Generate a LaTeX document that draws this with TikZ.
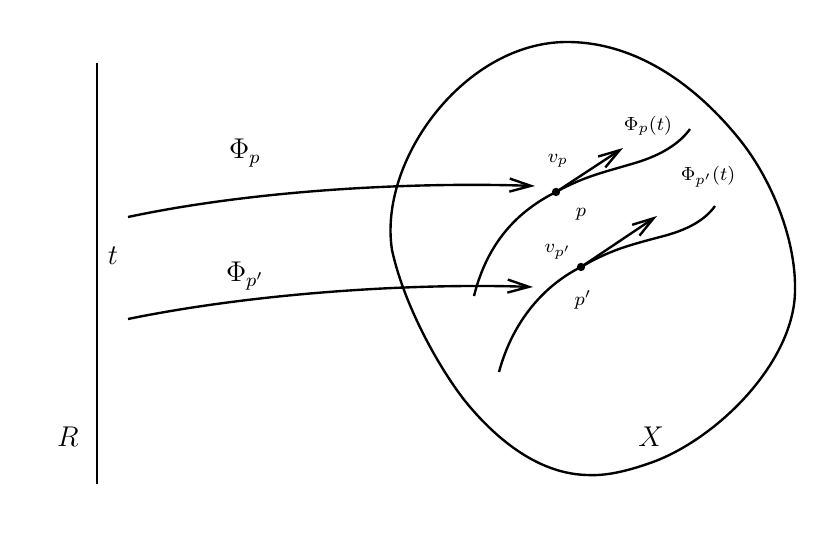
\documentclass[tikz,border=0pt]{standalone}
\usepackage{amsmath,amssymb}
\usetikzlibrary{arrows.meta,calc,positioning}

\begin{document}
\begin{tikzpicture}[>={Straight Barb[length=9pt,width=5.5pt]},x=0.42pt,y=-0.42pt,line width=1pt]
\tikzset{lbl/.style={inner sep=0pt,font=\large},slbl/.style={inner sep=0pt,font=\footnotesize},pt/.style={circle,fill,inner sep=0pt,minimum size=3.5pt}}
\useasboundingbox (0,0) rectangle (827,538);
% the line R
\coordinate (rtop) at (97,63); \coordinate (rbot) at (97,484);
\draw (rtop)--(rbot);
\node[lbl] (R) at (68,437) {$R$}; \node[lbl] (t) at (113,256) {$t$};
% the flows
\coordinate (a1) at (128,217); \coordinate (b1) at (535,186);
\coordinate (a2) at (128,319); \coordinate (b2) at (533,287);
\draw[->](a1) .. controls (260,189) and (420,182) .. (b1);
\draw[->](a2) .. controls (260,292) and (420,283) .. (b2);
\node[lbl] (phi1) at (245,153) {$\Phi_p$}; \node[lbl] (phi2) at (245,276) {$\Phi_{p'}$};
% the space X
\draw (567,42) .. controls (640,42) and (700,90) .. (740,140) .. controls (772,180) and (796,240) .. (795,290)
  .. controls (795,360) and (720,437) .. (653,462) .. controls (625,472) and (605,476) .. (587,475)
  .. controls (545,474) and (505,448) .. (470,407) .. controls (445,378) and (405,310) .. (392,250)
  .. controls (378,160) and (465,42) .. cycle;
\node[lbl] (X) at (651,437) {$X$};
% orbits in X
\node[pt] (p1) at (556,192) {}; \node[pt] (p2) at (581,267) {};
\coordinate (c1s) at (474,296); \coordinate (c1e) at (690,129);
\coordinate (c2s) at (499,372); \coordinate (c2e) at (715,206);
\draw (c1s) .. controls (488,240) and (520,210) .. (p1.center) .. controls (585,176) and (605,172) .. (635,163) .. controls (662,155) and (680,143) .. (c1e);
\draw (c2s) .. controls (513,320) and (545,285) .. (p2.center) .. controls (610,250) and (630,245) .. (660,237) .. controls (688,230) and (705,220) .. (c2e);
\coordinate (v1) at (623,148); \coordinate (v2) at (657,216);
\draw[->](p1.center)--(v1); \draw[->](p2.center)--(v2);
\node[slbl] (vp1) at (558,161) {$v_p$}; \node[slbl] (pp1) at (581,214) {$p$};
\node[slbl] (fp1) at (648,126) {$\Phi_p(t)$};
\node[slbl] (vp2) at (558,252) {$v_{p'}$}; \node[slbl] (pp2) at (583,300) {$p'$};
\node[slbl] (fp2) at (708,177) {$\Phi_{p'}(t)$};
\end{tikzpicture}
\end{document}
